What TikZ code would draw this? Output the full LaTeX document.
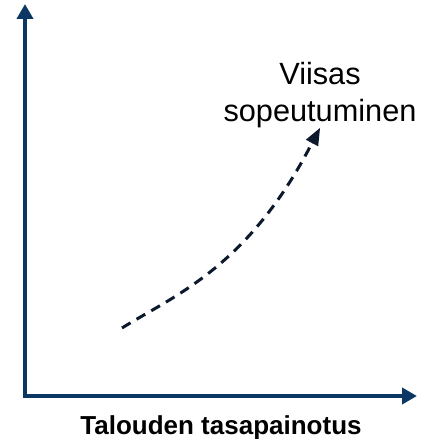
\documentclass[tikz,border=0pt]{standalone}
\usepackage{fontspec}
\setmainfont{Liberation Sans}
\usetikzlibrary{arrows.meta, positioning}
\definecolor{axisblue}{RGB}{10,55,100}
\definecolor{curvedark}{RGB}{12,25,45}

\begin{document}
\begin{tikzpicture}[
  x=1pt, y=1pt,
  axis/.style={line width=4pt, draw=axisblue, {Triangle[width=16pt,length=15pt]}-{Triangle[width=16pt,length=15pt]}},
  trend/.style={line width=3pt, draw=curvedark, dash pattern=on 10pt off 7pt},
  trendtip/.style={line width=3pt, draw=curvedark, -{Triangle[width=14pt,length=17pt,line width=0pt]}},
  lbl/.style={inner sep=0pt, align=center}
]
\useasboundingbox (0,0) rectangle (433,439);

\coordinate (origin) at (25,43);
\coordinate (ytip) at (25,435);
\coordinate (xtip) at (417,43);
\coordinate (xmid) at (221,43);
\coordinate (start) at (122,111);
\coordinate (bend) at (312,296);
\coordinate (goal) at (320,311);

\draw [axis] (ytip) -- (origin) -- (xtip);
\draw [trend] (start) .. controls (173,143) and (248,171) .. (bend);
\draw [trendtip] (bend) -- (goal);

\node (name) [lbl, above=0pt of goal, font=\fontsize{30.7}{37}\selectfont] {Viisas\\sopeutuminen};
\node (xlabel) [lbl, below=19pt of xmid, font=\bfseries\fontsize{26}{31}\selectfont] {Talouden tasapainotus};

\end{tikzpicture}
\end{document}
